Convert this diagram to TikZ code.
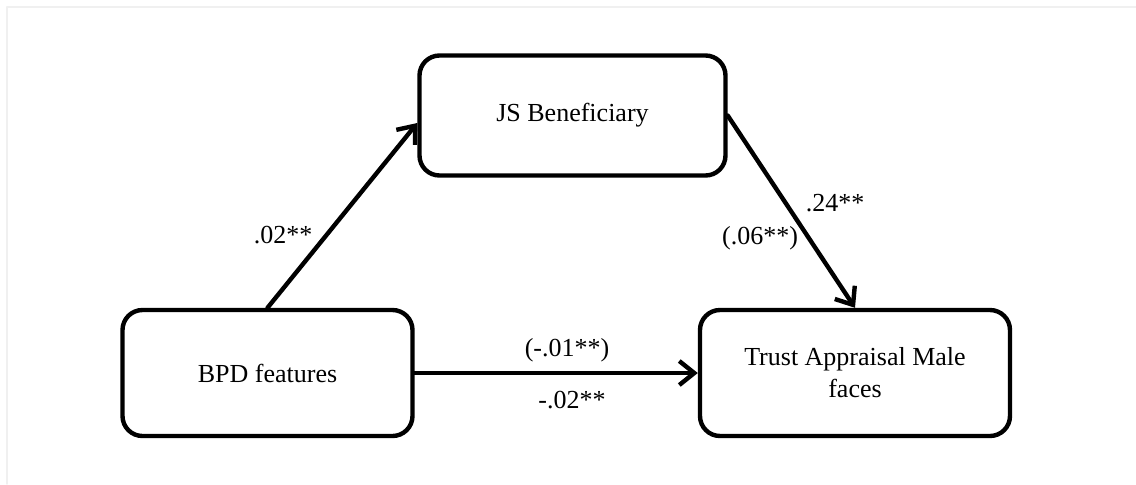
\documentclass[tikz,border=0pt]{standalone}
\usepackage{fontspec}
\setmainfont{Liberation Serif}
\usepackage{tikz}
\usetikzlibrary{arrows.meta}

\tikzset{
  varbox/.style={draw,line width=2.2pt,rounded corners=10pt,align=center,
    font=\fontsize{13}{16}\selectfont},
  pathlbl/.style={font=\fontsize{13}{15}\selectfont,inner sep=0pt},
  patharrow/.style={line width=2.2pt,-{Straight Barb[length=7.5pt,width=12pt,line width=2.2pt]}}
}

\begin{document}
\begin{tikzpicture}[x=0.5pt,y=-0.5pt,line cap=round,line join=round]
  \useasboundingbox (0,0) rectangle (1136,484);
  % faint frame
  \draw[gray!12,line width=0.8pt] (7,484)--(7,7)--(1136,7);
  % variables
  \node[varbox,minimum width=153pt,minimum height=60pt] (js) at (572.5,115.5) {JS Beneficiary};
  \node[varbox,minimum width=145pt,minimum height=63pt] (bpd) at (267.5,373) {BPD features};
  \node[varbox,minimum width=155pt,minimum height=63pt] (trust) at (855,373) {Trust Appraisal Male\\faces};
  % paths
  \draw[patharrow] (bpd.north) -- ([yshift=-3.75pt]js.west);
  \draw[patharrow] (js.east) -- (trust.north);
  \draw[patharrow] (bpd.east) -- (trust.west);
  % coefficients
  \node[pathlbl] (a) at (283,235) {.02**};
  \node[pathlbl] (b) at (835,203) {.24**};
  \node[pathlbl] (bc) at (760,238) {(.06**)};
  \node[pathlbl] (cc) at (567,350) {(-.01**)};
  \node[pathlbl] (c) at (572,400) {-.02**};
\end{tikzpicture}
\end{document}
